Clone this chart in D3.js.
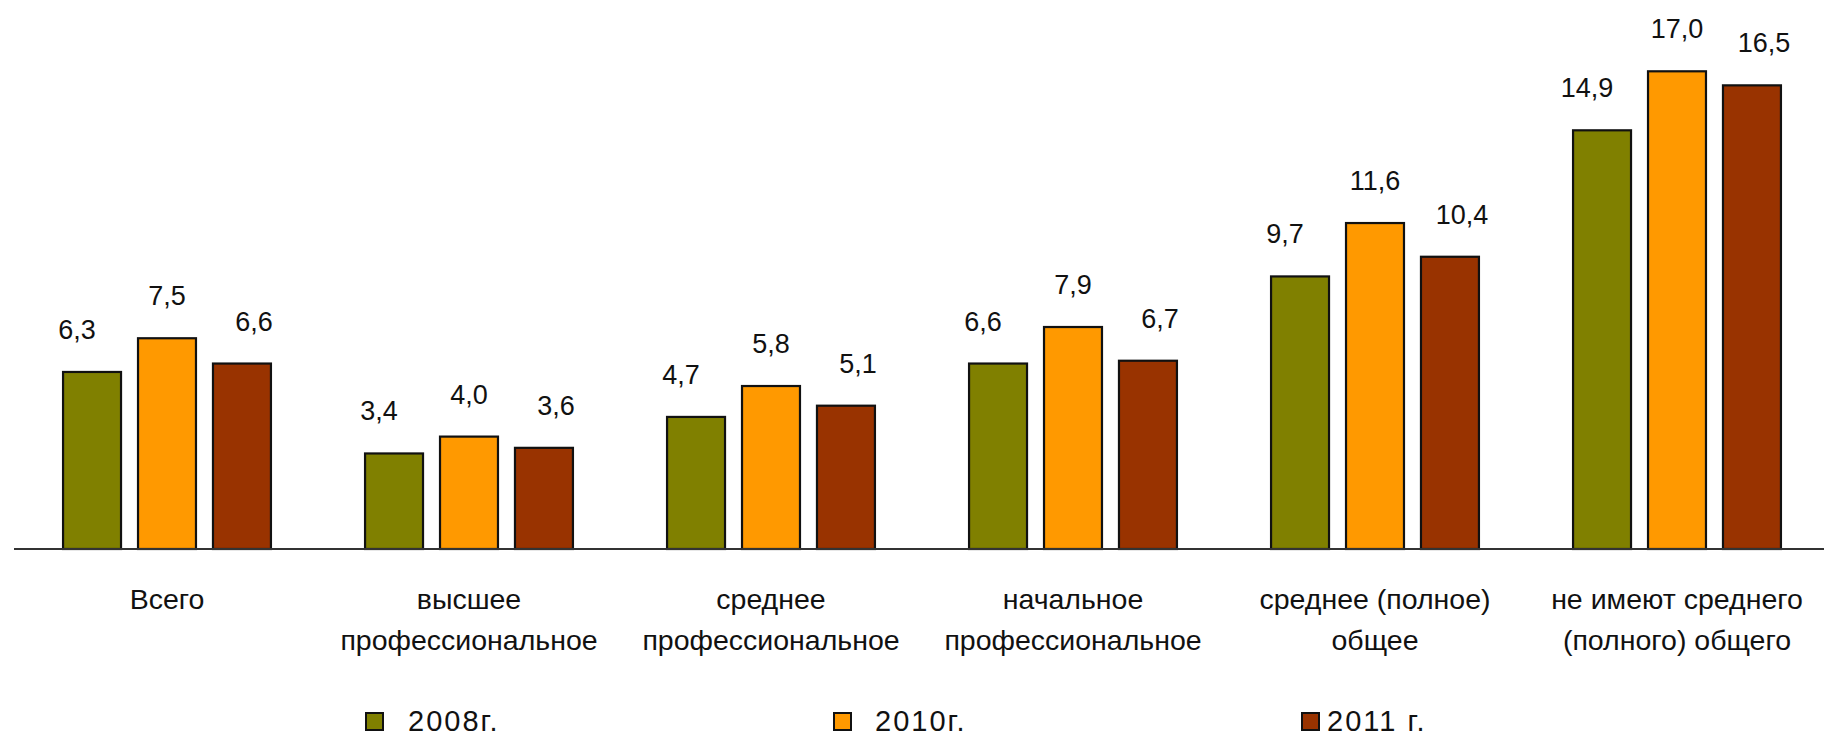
<!DOCTYPE html>
<html>
<head>
<meta charset="utf-8">
<script src="https://cdn.jsdelivr.net/npm/d3@7"></script>
<style>
  html, body { margin: 0; padding: 0; background: #fff; }
  svg { display: block; }
  text { font-family: "Liberation Sans", Arial, sans-serif; fill: #111; }
</style>
</head>
<body>
<svg id="chart" width="1824" height="739"></svg>
<script>
// ---- data ----
const categories = [
  "Всего",
  "высшее\nпрофессиональное",
  "среднее\nпрофессиональное",
  "начальное\nпрофессиональное",
  "среднее (полное)\nобщее",
  "не имеют среднего\n(полного) общего"
];
const seriesNames = ["2008г.", "2010г.", "2011 г."];
const values2008 = [6.3, 3.4, 4.7, 6.6, 9.7, 14.9];
const values2010 = [7.5, 4.0, 5.8, 7.9, 11.6, 17.0];
const values2011 = [6.6, 3.6, 5.1, 6.7, 10.4, 16.5];

// ---- styles / layout ----
const colors = ["#808000", "#ff9900", "#993300"];
const labelDx = [-15, 0, 12];
const legendTextGap = [42, 41, 25];

const allValues = [values2008, values2010, values2011];
const svg = d3.select("#chart");
const baseY = 549;

const x0 = d3.scaleBand()
  .domain(categories)
  .range([16, 1828])
  .paddingInner(0.305)
  .paddingOuter(0.1525);

const x1 = d3.scaleBand()
  .domain(seriesNames)
  .range([0, x0.bandwidth()])
  .paddingInner(0.2)
  .paddingOuter(0);

const y = d3.scaleLinear()
  .domain([0, 17])
  .range([baseY, baseY - 17 * 28.1]);

const fmt = v => d3.format(".1f")(v).replace(".", ",");

const rows = categories.map((c, i) => ({
  cat: c,
  vals: seriesNames.map((s, j) => ({ s, j, v: allValues[j][i] }))
}));

const groups = svg.append("g").selectAll("g")
  .data(rows)
  .join("g")
  .attr("transform", d => `translate(${x0(d.cat)},0)`);

groups.selectAll("rect")
  .data(d => d.vals)
  .join("rect")
  .attr("x", d => x1(d.s) + 1)
  .attr("width", x1.bandwidth() - 2)
  .attr("y", d => y(d.v))
  .attr("height", d => y(0) - y(d.v))
  .attr("fill", d => colors[d.j])
  .attr("stroke", "#111")
  .attr("stroke-width", 2.2);

groups.selectAll("text.val")
  .data(d => d.vals)
  .join("text")
  .attr("class", "val")
  .attr("x", d => x1(d.s) + x1.bandwidth() / 2 + labelDx[d.j])
  .attr("y", d => y(d.v) - 33)
  .attr("text-anchor", "middle")
  .attr("font-size", 27)
  .text(d => fmt(d.v));

// baseline axis
svg.append("line")
  .attr("x1", 14).attr("x2", 1824)
  .attr("y1", baseY).attr("y2", baseY)
  .attr("stroke", "#333")
  .attr("stroke-width", 2.2);

// category labels
const catG = svg.append("g").selectAll("text")
  .data(categories)
  .join("text")
  .attr("text-anchor", "middle")
  .attr("font-size", 28.5)
  .attr("transform", d => `translate(${x0(d) + x0.bandwidth() / 2},0)`);

catG.selectAll("tspan")
  .data(d => d.split("\n"))
  .join("tspan")
  .attr("x", 0)
  .attr("y", (d, i) => 609 + i * 41)
  .text(d => d);

// legend
const legendX = d3.scaleLinear().domain([0, 2]).range([366, 1302]);
const leg = svg.append("g").selectAll("g")
  .data(seriesNames)
  .join("g")
  .attr("transform", (d, i) => `translate(${legendX(i)},0)`);

leg.append("rect")
  .attr("x", 0).attr("y", 713)
  .attr("width", 17).attr("height", 17)
  .attr("fill", (d, i) => colors[i])
  .attr("stroke", "#111")
  .attr("stroke-width", 2);

leg.append("text")
  .attr("x", (d, i) => legendTextGap[i])
  .attr("y", 731)
  .attr("font-size", 29)
  .attr("letter-spacing", 2)
  .text(d => d);
</script>
</body>
</html>
